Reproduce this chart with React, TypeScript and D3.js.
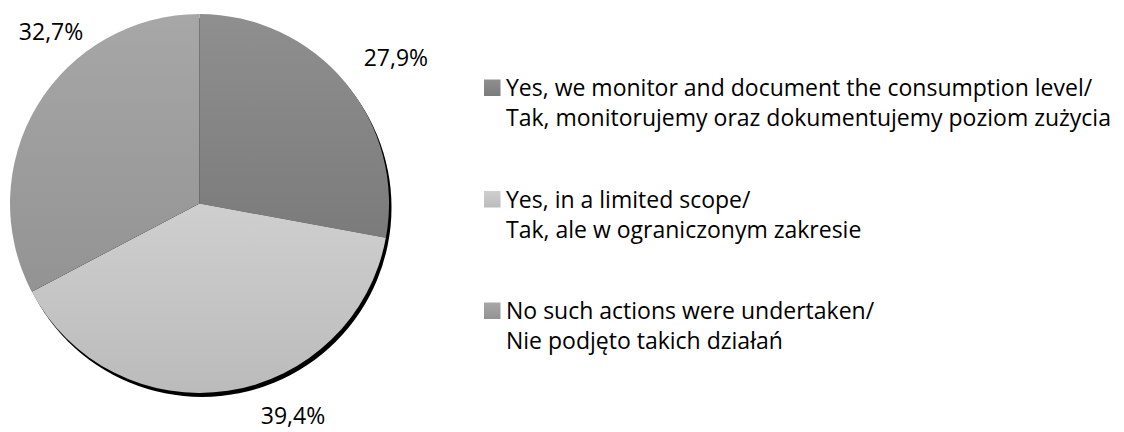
import React from "react";
import * as d3 from "d3";

const categories = [
  ["Yes, we monitor and document the consumption level/", "Tak, monitorujemy oraz dokumentujemy poziom zużycia"],
  ["Yes, in a limited scope/", "Tak, ale w ograniczonym zakresie"],
  ["No such actions were undertaken/", "Nie podjęto takich działań"],
];
const values = [27.9, 39.4, 32.7];
const valueLabels = ["27,9%", "39,4%", "32,7%"];
const gradTop = ["#8f8f8f", "#cfcfcf", "#a7a7a7"];
const gradBottom = ["#7b7b7b", "#bbbbbb", "#939393"];

const W = 1124, H = 432;
const CX = 199.5, CY = 203.5, R = 189.5;
const LABEL_R = R + 40;
const LABEL_NUDGE: [number, number][] = [[20, 1], [59, -15], [48, -53]];
const LEG_X = 484, LEG_TEXT_X = 506, LEG_Y0 = 96, LEG_STEP = 111.5, LINE_H = 30;

export default function App() {
  const pie = d3.pie<number>().sort(null).value((d) => d);
  const arcs = pie(values);
  const arc = d3.arc<d3.PieArcDatum<number>>().innerRadius(0).outerRadius(R);
  const labelArc = d3.arc<d3.PieArcDatum<number>>().innerRadius(LABEL_R).outerRadius(LABEL_R);
  return (
    <svg width={W} height={H} style={{ position: "absolute", left: 0, top: 0 }}>
      <defs>
        {values.map((_, i) => (
          <linearGradient key={i} id={`g${i}`} x1="0" y1="0" x2="0" y2="1">
            <stop offset="0" stopColor={gradTop[i]} />
            <stop offset="1" stopColor={gradBottom[i]} />
          </linearGradient>
        ))}
        <filter id="blur" x="-10%" y="-10%" width="120%" height="120%">
          <feGaussianBlur stdDeviation="0.6" />
        </filter>
      </defs>
      <circle cx={CX + 2.5} cy={CY + 4} r={R} fill="#000" filter="url(#blur)" />
      <g transform={`translate(${CX},${CY})`}>
        {arcs.map((a, i) => (
          <path key={i} d={arc(a) || ""} fill={`url(#g${i})`} />
        ))}
      </g>
      {arcs.map((a, i) => {
        const [x, y] = labelArc.centroid(a);
        return (
          <text
            key={i}
            x={CX + x + LABEL_NUDGE[i][0]}
            y={CY + y + LABEL_NUDGE[i][1]}
            dy="0.36em"
            textAnchor="middle"
            fontFamily="'Open Sans', sans-serif"
            fontSize={23}
            fill="#000"
          >
            {valueLabels[i]}
          </text>
        );
      })}
      {categories.map((lines, i) => {
        const by = LEG_Y0 + i * LEG_STEP;
        return (
          <g key={i}>
            <rect x={LEG_X} y={by - 16.5} width={16.5} height={16.5} fill={`url(#g${i})`} />
            {lines.map((t, j) => (
              <text
                key={j}
                x={LEG_TEXT_X}
                y={by + j * LINE_H}
                fontFamily="'Open Sans', sans-serif"
                fontSize={23}
                fill="#000"
              >
                {t}
              </text>
            ))}
          </g>
        );
      })}
    </svg>
  );
}
